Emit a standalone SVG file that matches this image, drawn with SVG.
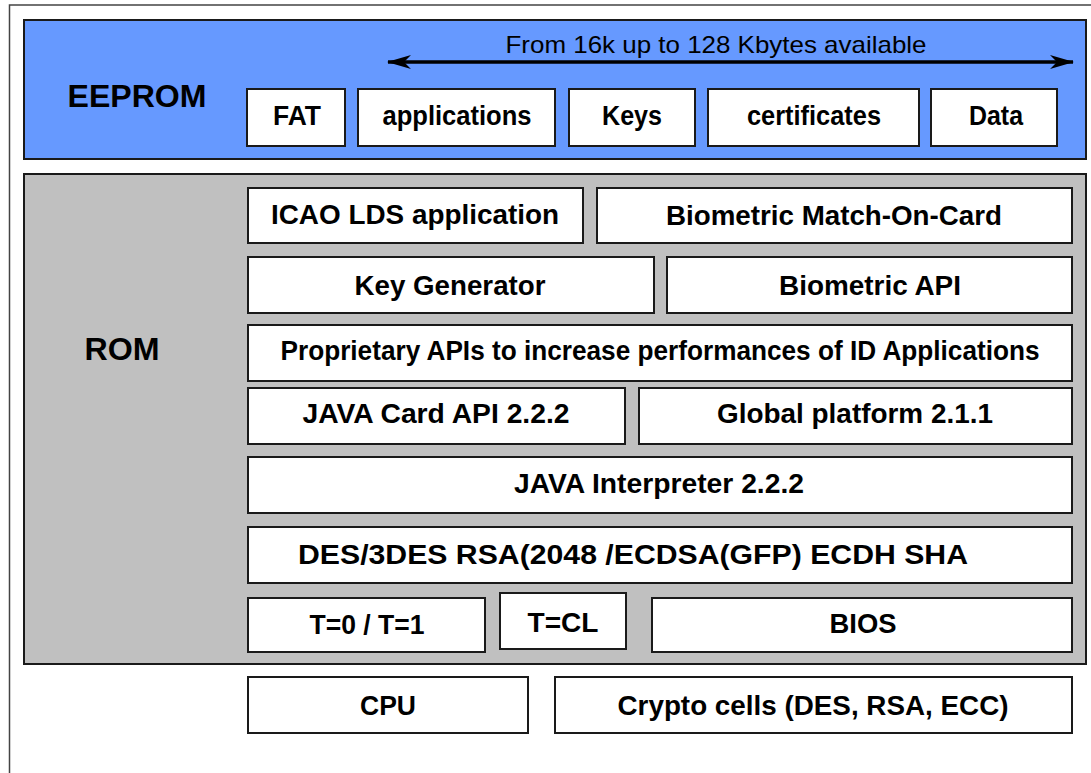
<svg xmlns="http://www.w3.org/2000/svg" width="1091" height="773" viewBox="0 0 1091 773">
<style>
.box{fill:#fff;stroke:#1a1a1a;stroke-width:2}
.lbl{font-family:"Liberation Sans",Arial,sans-serif;font-weight:bold;font-size:27px;fill:#000;text-anchor:middle}
.big{font-family:"Liberation Sans",Arial,sans-serif;font-weight:bold;font-size:32px;fill:#000;text-anchor:middle}
</style>
<defs>
<marker id="ah" viewBox="0 0 24 14" refX="23" refY="7" markerWidth="24" markerHeight="14" markerUnits="userSpaceOnUse" orient="auto-start-reverse">
<path d="M0,0 L24,7 L0,14 L7,7 Z" fill="#000"/>
</marker>
</defs>
<rect width="1091" height="773" fill="#fff"/>
<rect x="9.5" y="5" width="1100" height="800" fill="#fff" stroke="#444" stroke-width="1.5"/>
<g id="eeprom">
<rect x="24" y="20" width="1062" height="139" fill="#6699FF" stroke="#1a1a1a" stroke-width="2"/>
<text class="big" x="137" y="107" textLength="139" lengthAdjust="spacingAndGlyphs">EEPROM</text>
<text x="716" y="53" font-family="Liberation Sans,Arial,sans-serif" font-size="24" text-anchor="middle" textLength="421" lengthAdjust="spacingAndGlyphs">From 16k up to 128 Kbytes available</text>
</g>
<g id="connectors">
<line x1="388" y1="62" x2="1073" y2="62" stroke="#000" stroke-width="3.5" marker-start="url(#ah)" marker-end="url(#ah)"/>
</g>
<g id="fat"><rect class="box" x="247" y="89" width="98" height="57"/><text class="lbl" x="297" y="125" textLength="48" lengthAdjust="spacingAndGlyphs">FAT</text></g>
<g id="applications"><rect class="box" x="358" y="89" width="197" height="57"/><text class="lbl" x="457" y="125" textLength="149" lengthAdjust="spacingAndGlyphs">applications</text></g>
<g id="keys"><rect class="box" x="569" y="89" width="126" height="57"/><text class="lbl" x="632" y="125" textLength="60" lengthAdjust="spacingAndGlyphs">Keys</text></g>
<g id="certificates"><rect class="box" x="708" y="89" width="211" height="57"/><text class="lbl" x="814" y="125" textLength="134" lengthAdjust="spacingAndGlyphs">certificates</text></g>
<g id="data"><rect class="box" x="931" y="89" width="126" height="57"/><text class="lbl" x="996" y="125" textLength="54" lengthAdjust="spacingAndGlyphs">Data</text></g>
<g id="rom">
<rect x="24" y="174" width="1062" height="490" fill="#C0C0C0" stroke="#1a1a1a" stroke-width="2"/>
<text class="big" x="122" y="360" textLength="75" lengthAdjust="spacingAndGlyphs">ROM</text>
</g>
<g id="icao"><rect class="box" x="248" y="188" width="335" height="55"/><text class="lbl" x="415" y="224" textLength="288" lengthAdjust="spacingAndGlyphs">ICAO LDS application</text></g>
<g id="biomoc"><rect class="box" x="597" y="188" width="475" height="55"/><text class="lbl" x="834" y="225" textLength="336" lengthAdjust="spacingAndGlyphs">Biometric Match-On-Card</text></g>
<g id="keygen"><rect class="box" x="248" y="257" width="406" height="56"/><text class="lbl" x="450" y="295" textLength="191" lengthAdjust="spacingAndGlyphs">Key Generator</text></g>
<g id="bioapi"><rect class="box" x="667" y="257" width="405" height="56"/><text class="lbl" x="870" y="295" textLength="182" lengthAdjust="spacingAndGlyphs">Biometric API</text></g>
<g id="proprietary"><rect class="box" x="248" y="325" width="824" height="56"/><text class="lbl" x="660" y="360" textLength="759" lengthAdjust="spacingAndGlyphs">Proprietary APIs to increase performances of ID Applications</text></g>
<g id="javacard"><rect class="box" x="248" y="388" width="377" height="56"/><text class="lbl" x="436" y="423" textLength="267" lengthAdjust="spacingAndGlyphs">JAVA Card API 2.2.2</text></g>
<g id="globalplatform"><rect class="box" x="639" y="388" width="433" height="56"/><text class="lbl" x="855" y="423" textLength="276" lengthAdjust="spacingAndGlyphs">Global platform 2.1.1</text></g>
<g id="interpreter"><rect class="box" x="248" y="457" width="824" height="56"/><text class="lbl" x="659" y="493" textLength="290" lengthAdjust="spacingAndGlyphs">JAVA Interpreter 2.2.2</text></g>
<g id="crypto-algos"><rect class="box" x="248" y="527" width="824" height="56"/><text class="lbl" x="633" y="564" textLength="670" lengthAdjust="spacingAndGlyphs">DES/3DES RSA(2048 /ECDSA(GFP) ECDH SHA</text></g>
<g id="t01"><rect class="box" x="248" y="598" width="237" height="54"/><text class="lbl" x="367" y="634" textLength="115" lengthAdjust="spacingAndGlyphs">T=0 / T=1</text></g>
<g id="tcl"><rect class="box" x="500" y="593" width="126" height="56"/><text class="lbl" x="563" y="632" textLength="71" lengthAdjust="spacingAndGlyphs">T=CL</text></g>
<g id="bios"><rect class="box" x="652" y="598" width="420" height="54"/><text class="lbl" x="863" y="633" textLength="67" lengthAdjust="spacingAndGlyphs">BIOS</text></g>
<g id="cpu"><rect class="box" x="248" y="677" width="280" height="56"/><text class="lbl" x="388" y="715" textLength="56" lengthAdjust="spacingAndGlyphs">CPU</text></g>
<g id="cryptocells"><rect class="box" x="555" y="677" width="517" height="56"/><text class="lbl" x="813" y="715" textLength="391" lengthAdjust="spacingAndGlyphs">Crypto cells (DES, RSA, ECC)</text></g>
</svg>
